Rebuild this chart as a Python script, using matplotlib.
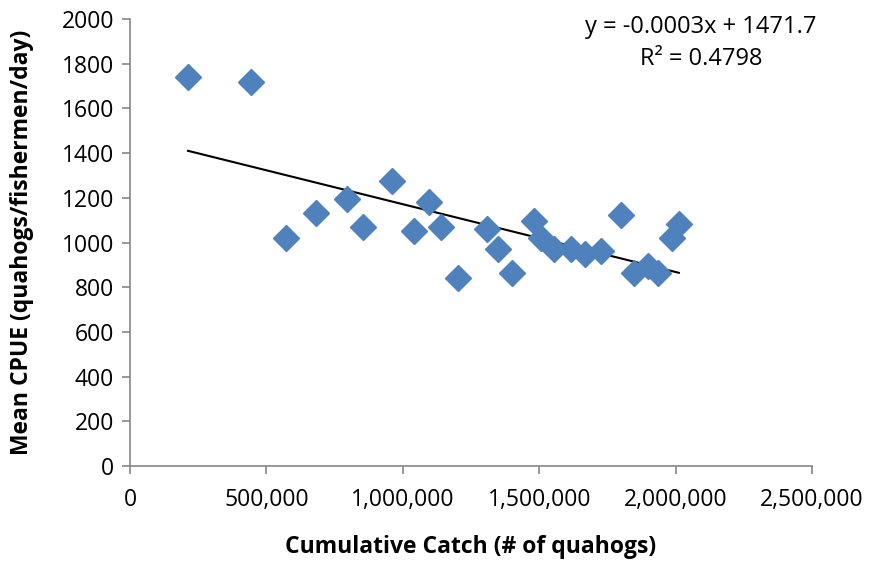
import numpy as np
import matplotlib
matplotlib.use("Agg")
import matplotlib.pyplot as plt
from matplotlib.ticker import FuncFormatter

plt.rcParams['font.family'] = ['Open Sans', 'DejaVu Sans']

cumulative_catch = [212600, 443500, 572000, 682000, 795000, 854000, 960000, 1041000,
                    1096000, 1140000, 1202000, 1309000, 1349000, 1400000, 1481000,
                    1507000, 1554000, 1617000, 1668000, 1727000, 1800000, 1848000,
                    1899000, 1936000, 1987000, 2012000]
mean_cpue = [1740, 1718, 1020, 1132, 1195, 1069, 1275, 1051, 1181, 1069, 841, 1060,
             971, 863, 1096, 1020, 971, 971, 949, 962, 1123, 863, 895, 863, 1020, 1083]
x_ticks = [0, 500000, 1000000, 1500000, 2000000, 2500000]
y_ticks = [0, 200, 400, 600, 800, 1000, 1200, 1400, 1600, 1800, 2000]
eq_text = "y = -0.0003x + 1471.7"
r2_text = "R² = 0.4798"

fig = plt.figure(figsize=(8.75, 5.63), dpi=100)
ax = fig.add_axes([130/875, 1-466/563, (812-130)/875, (466-19)/563])

x = np.array(cumulative_catch)
y = np.array(mean_cpue)
ax.plot(x, y, linestyle='none', marker='D', markersize=13, color='#4F81BD',
        markeredgecolor='#4F81BD', zorder=3)
m, b = np.polyfit(x, y, 1)
xs = np.array([x.min(), x.max()])
ax.plot(xs, m*xs + b, color='black', linewidth=1.5, zorder=2)

ax.set_xlim(0, 2500000)
ax.set_ylim(0, 2000)
ax.set_xticks(x_ticks)
ax.set_yticks(y_ticks)
ax.xaxis.set_major_formatter(FuncFormatter(lambda v, p: f"{int(v):,}"))
for s in ['top', 'right']:
    ax.spines[s].set_visible(False)
for s in ['left', 'bottom']:
    ax.spines[s].set_color('#868686')
    ax.spines[s].set_linewidth(1.2)
ax.tick_params(axis='both', colors='#868686', labelcolor='black', labelsize=16.5,
               length=5.5, width=1.2, direction='out')
ax.tick_params(axis='x', pad=10)
ax.tick_params(axis='y', pad=6)
ax.set_xlabel("Cumulative Catch (# of quahogs)", fontsize=16.5, fontweight='bold', labelpad=17)
ax.set_ylabel("Mean CPUE (quahogs/fishermen/day)", fontsize=16.5, fontweight='bold', labelpad=20)

fig.text(701/875, 1-27/563, eq_text, ha='center', va='center', fontsize=17)
fig.text(701/875, 1-59/563, r2_text, ha='center', va='center', fontsize=17)

fig.savefig("out.png", dpi=100)
